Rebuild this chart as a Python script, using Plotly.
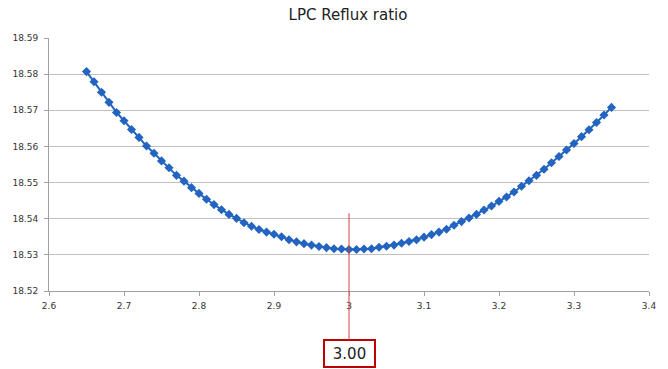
import plotly.graph_objects as go

# Reflux ratio sweep (step 0.01) and resulting objective value
reflux_ratio = [round(2.65 + 0.01 * i, 2) for i in range(71)]
objective = [
    18.5807, 18.5779, 18.5750, 18.5722, 18.5694, 18.5671, 18.5647, 18.5625, 18.5601, 18.5581,
    18.5560, 18.5541, 18.5520, 18.5504, 18.5486, 18.5470, 18.5454, 18.5439, 18.5425, 18.5412,
    18.5401, 18.5389, 18.5379, 18.5370, 18.5363, 18.5357, 18.5350, 18.5342, 18.5336, 18.5331,
    18.5327, 18.5323, 18.5320, 18.5317, 18.5316, 18.5315, 18.5315, 18.5316, 18.5317, 18.5321,
    18.5324, 18.5327, 18.5332, 18.5337, 18.5342, 18.5349, 18.5356, 18.5363, 18.5371, 18.5382,
    18.5392, 18.5402, 18.5412, 18.5424, 18.5435, 18.5448, 18.5460, 18.5474, 18.5490, 18.5505,
    18.5520, 18.5537, 18.5555, 18.5572, 18.5590, 18.5608, 18.5627, 18.5646, 18.5666, 18.5687,
    18.5708,
]

optimum_x = 3.00
optimum_label = "3.00"
marker_top = 18.5415

blue = "#2264c0"
tick_font = dict(family="DejaVu Sans", size=9, color="#333333")

fig = go.Figure()
fig.add_trace(go.Scatter(
    x=reflux_ratio, y=objective, mode="lines+markers",
    line=dict(color=blue, width=2),
    marker=dict(symbol="diamond", size=7, color=blue),
    showlegend=False, hoverinfo="x+y",
))

# Optimum callout: boxed label below the axis with a thin line up into the plot
fig.add_annotation(x=optimum_x, xref="x", y=marker_top, yref="y",
                   text=optimum_label, showarrow=True, arrowhead=0,
                   arrowcolor="#d04040", arrowwidth=1, ax=0, ay=140,
                   font=dict(family="DejaVu Sans", size=15, color="#222222"),
                   bordercolor="#c00000", borderwidth=2, borderpad=3, bgcolor="white",
                   width=43, height=19)

fig.update_layout(
    width=668, height=369,
    margin=dict(l=49, r=19, t=38, b=78),
    paper_bgcolor="white", plot_bgcolor="white",
    title=dict(text="LPC Reflux ratio", x=0.521, xanchor="center", y=0.96, yanchor="middle",
               font=dict(family="DejaVu Sans", size=15, color="#222222")),
    xaxis=dict(range=[2.6, 3.4], dtick=0.1, tick0=2.6, showgrid=False,
               showline=True, linecolor="#a0a0a0", linewidth=1,
               ticks="outside", ticklen=4, tickcolor="#a0a0a0",
               tickfont=tick_font, zeroline=False, ticklabelstandoff=2),
    yaxis=dict(range=[18.52, 18.59], dtick=0.01, tick0=18.52,
               showgrid=True, gridcolor="#c0c0c0", gridwidth=1,
               showline=True, linecolor="#a0a0a0", linewidth=1,
               ticks="outside", ticklen=4, tickcolor="#a0a0a0",
               tickfont=tick_font, tickformat=".2f", zeroline=False,
               ticklabelstandoff=4),
)

fig.write_html("out.html")
